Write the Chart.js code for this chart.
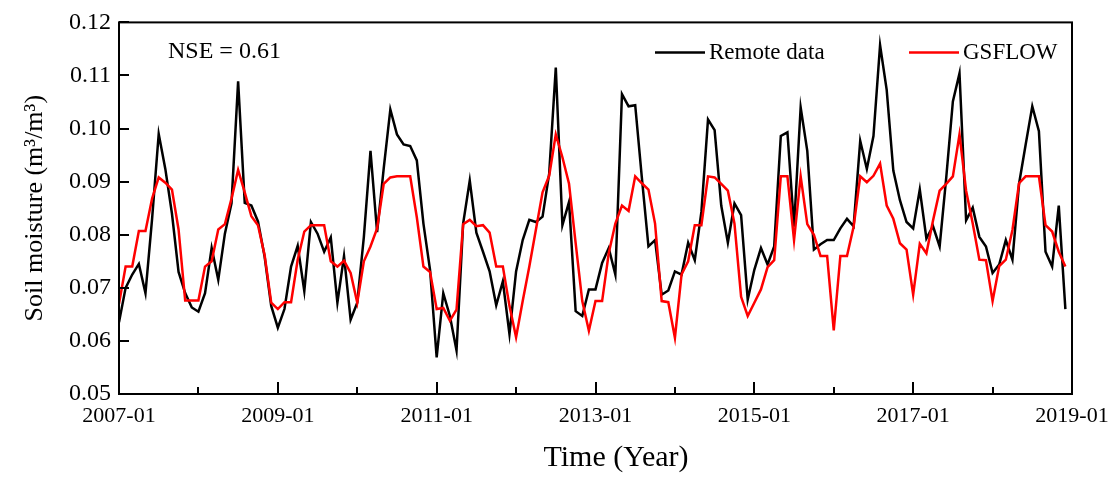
<!DOCTYPE html>
<html>
<head>
<meta charset="utf-8">
<script src="https://cdn.jsdelivr.net/npm/chart.js@4.4.1/dist/chart.umd.min.js"></script>
<style>
  html, body { margin: 0; padding: 0; background: #fff; }
  #wrap { width: 1119px; height: 479px; }
</style>
</head>
<body>
<div id="wrap"><canvas id="chart" width="1119" height="479"></canvas></div>
<script>
// monthly series, 2007-01 .. 2018-12
const months = []
for (let y = 2007; y <= 2018; y++) {
  for (let m = 1; m <= 12; m++) months.push(`${y}-${String(m).padStart(2, '0')}`)
}

const remoteData = [
  0.0635, 0.0700, 0.0725, 0.0745, 0.0690, 0.0830, 0.0990, 0.0924, 0.0840, 0.0730, 0.0690, 0.0663,
  0.0655, 0.0690, 0.0775, 0.0715, 0.0802, 0.0859, 0.1089, 0.0860, 0.0855, 0.0825, 0.0759, 0.0666,
  0.0625, 0.0660, 0.0740, 0.0779, 0.0694, 0.0824, 0.0802, 0.0768, 0.0795, 0.0672, 0.0760, 0.0640,
  0.0672, 0.0796, 0.0958, 0.0805, 0.0925, 0.1036, 0.0989, 0.0970, 0.0967, 0.0940, 0.0821, 0.0734,
  0.0569, 0.0690, 0.0647, 0.0582, 0.0821, 0.0902, 0.0804, 0.0768, 0.0731, 0.0667, 0.0712, 0.0613,
  0.0731, 0.0790, 0.0828, 0.0824, 0.0834, 0.0915, 0.1115, 0.0818, 0.0862, 0.0656, 0.0647, 0.0697,
  0.0697, 0.0747, 0.0775, 0.0725, 0.1065, 0.1042, 0.1044, 0.0908, 0.0778, 0.0790, 0.0687, 0.0695,
  0.0731, 0.0725, 0.0785, 0.0752, 0.0843, 0.1017, 0.0997, 0.0855, 0.0785, 0.0859, 0.0837, 0.0678,
  0.0734, 0.0775, 0.0744, 0.0778, 0.0986, 0.0993, 0.0815, 0.1040, 0.0958, 0.0772, 0.0782, 0.0790,
  0.0790, 0.0812, 0.0830, 0.0816, 0.0977, 0.0924, 0.0986, 0.1157, 0.1073, 0.0921, 0.0865, 0.0824,
  0.0812, 0.0885, 0.0793, 0.0816, 0.0778, 0.0908, 0.1051, 0.1104, 0.0827, 0.0851, 0.0796, 0.0778,
  0.0728, 0.0744, 0.0790, 0.0753, 0.0896, 0.0970, 0.1042, 0.0995, 0.0768, 0.0740, 0.0855, 0.0660,
]

const gsflowData = [
  0.0670, 0.0740, 0.0740, 0.0807, 0.0807, 0.0868, 0.0908, 0.0898, 0.0885, 0.0810, 0.0676, 0.0676,
  0.0676, 0.0740, 0.0750, 0.0810, 0.0820, 0.0868, 0.0922, 0.0880, 0.0835, 0.0818, 0.0762, 0.0672,
  0.0660, 0.0673, 0.0673, 0.0753, 0.0806, 0.0818, 0.0818, 0.0818, 0.0750, 0.0740, 0.0751, 0.0728,
  0.0672, 0.0750, 0.0778, 0.0812, 0.0896, 0.0908, 0.0910, 0.0910, 0.0910, 0.0833, 0.0740, 0.0730,
  0.0660, 0.0662, 0.0638, 0.0659, 0.0820, 0.0828, 0.0816, 0.0818, 0.0804, 0.0740, 0.0740, 0.0666,
  0.0607, 0.0675, 0.0740, 0.0810, 0.0880, 0.0911, 0.0989, 0.0946, 0.0896, 0.0784, 0.0675, 0.0619,
  0.0675, 0.0675, 0.0765, 0.0821, 0.0855, 0.0845, 0.0910, 0.0897, 0.0885, 0.0821, 0.0675, 0.0673,
  0.0606, 0.0725, 0.0750, 0.0818, 0.0818, 0.0910, 0.0908, 0.0896, 0.0883, 0.0821, 0.0683, 0.0647,
  0.0672, 0.0697, 0.0739, 0.0752, 0.0910, 0.0910, 0.0790, 0.0910, 0.0820, 0.0800, 0.0760, 0.0760,
  0.0620, 0.0760, 0.0760, 0.0815, 0.0910, 0.0899, 0.0911, 0.0934, 0.0855, 0.0830, 0.0784, 0.0772,
  0.0687, 0.0783, 0.0765, 0.0827, 0.0883, 0.0896, 0.0910, 0.0989, 0.0883, 0.0821, 0.0753, 0.0752,
  0.0675, 0.0741, 0.0753, 0.0809, 0.0897, 0.0910, 0.0910, 0.0910, 0.0818, 0.0806, 0.0768, 0.0740,
]

const xTickLabels = ['2007-01', '2009-01', '2011-01', '2013-01', '2015-01', '2017-01', '2019-01']
const xMinorLabels = ['2008-01', '2010-01', '2012-01', '2014-01', '2016-01', '2018-01']
const yTickLabels = ['0.05', '0.06', '0.07', '0.08', '0.09', '0.10', '0.11', '0.12']
const seriesNames = ['Remote data', 'GSFLOW']
const nseText = 'NSE = 0.61'
const xTitle = 'Time (Year)'

const SERIF = "'Liberation Serif', 'Times New Roman', serif"
const monthIndex = (s) => {
  const [y, m] = s.split('-').map(Number)
  return (y - 2007) * 12 + (m - 1)
}
const yTicks = yTickLabels.map(Number)

const toPoints = (arr) => arr.map((v, i) => ({ x: monthIndex(months[i]), y: v }))

// box, inward ticks, legend, x title and NSE note
const frame = {
  id: 'frame',
  afterDraw(chart) {
    const { ctx, chartArea: a, scales: { x, y } } = chart
    ctx.save()
    ctx.strokeStyle = '#000'
    ctx.lineWidth = 2
    ctx.strokeRect(a.left, a.top, a.right - a.left, a.bottom - a.top)

    ctx.beginPath()
    yTicks.forEach(v => {
      const py = Math.round(y.getPixelForValue(v))
      ctx.moveTo(a.left, py); ctx.lineTo(a.left + 10, py)
    })
    xTickLabels.forEach(l => {
      const px = Math.round(x.getPixelForValue(monthIndex(l)))
      ctx.moveTo(px, a.bottom); ctx.lineTo(px, a.bottom - 12)
    })
    xMinorLabels.forEach(l => {
      const px = Math.round(x.getPixelForValue(monthIndex(l)))
      ctx.moveTo(px, a.bottom); ctx.lineTo(px, a.bottom - 7)
    })
    ctx.stroke()

    ctx.fillStyle = '#000'
    ctx.textBaseline = 'middle'
    ctx.textAlign = 'left'
    ctx.font = `24px ${SERIF}`
    ctx.fillText(nseText, a.left + 49, a.top + 29)

    const legendY = a.top + 30
    const items = [
      { x: a.left + 536, color: '#000000' },
      { x: a.left + 790, color: '#ff0000' },
    ]
    ctx.font = `23px ${SERIF}`
    items.forEach((it, k) => {
      ctx.strokeStyle = it.color
      ctx.lineWidth = 2.5
      ctx.beginPath()
      ctx.moveTo(it.x, legendY); ctx.lineTo(it.x + 50, legendY)
      ctx.stroke()
      ctx.fillText(seriesNames[k], it.x + 54, legendY + 1)
    })

    ctx.textAlign = 'center'
    ctx.font = `30px ${SERIF}`
    ctx.fillText(xTitle, a.left + 497, a.bottom + 64)
    ctx.restore()
  }
}

Chart.defaults.font.family = SERIF
Chart.defaults.color = '#000'

new Chart(document.getElementById('chart'), {
  type: 'line',
  data: {
    datasets: [
      {
        label: seriesNames[0],
        data: toPoints(remoteData),
        borderColor: '#000000',
        borderWidth: 2.5,
        pointRadius: 0,
        tension: 0,
        order: 2,
      },
      {
        label: seriesNames[1],
        data: toPoints(gsflowData),
        borderColor: '#ff0000',
        borderWidth: 2.5,
        pointRadius: 0,
        tension: 0,
        order: 1,
      },
    ],
  },
  options: {
    responsive: false,
    animation: false,
    devicePixelRatio: 1,
    layout: { padding: { top: 19, right: 47, left: 0, bottom: 0 } },
    plugins: {
      legend: { display: false },
      tooltip: { enabled: false },
    },
    scales: {
      x: {
        type: 'linear',
        min: 0,
        max: monthIndex(xTickLabels[xTickLabels.length - 1]),
        afterBuildTicks: (s) => { s.ticks = xTickLabels.map(l => ({ value: monthIndex(l) })) },
        afterFit: (s) => { s.height = 85 },
        ticks: {
          autoSkip: false,
          maxRotation: 0,
          padding: 9,
          font: { size: 22 },
          callback: (v) => xTickLabels.find(l => monthIndex(l) === v) ?? '',
        },
        grid: { display: false, drawTicks: false },
        border: { display: false },
      },
      y: {
        min: 0.05,
        max: 0.12,
        afterBuildTicks: (s) => { s.ticks = yTicks.map(v => ({ value: v })) },
        afterFit: (s) => { s.width = 119 },
        ticks: {
          padding: 8,
          font: { size: 24 },
          callback: (v) => yTickLabels[yTicks.indexOf(v)] ?? '',
        },
        grid: { display: false, drawTicks: false },
        border: { display: false },
        title: {
          display: true,
          text: 'Soil moisture (m³/m³)',
          font: { size: 26 },
          padding: { top: 20, bottom: 0 },
        },
      },
    },
  },
  plugins: [frame],
})
</script>
</body>
</html>
